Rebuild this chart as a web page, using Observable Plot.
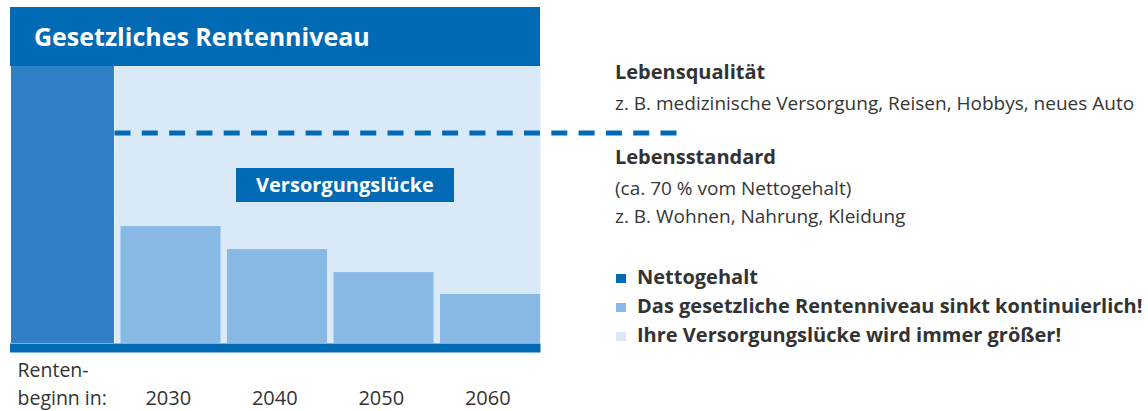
<!DOCTYPE html>
<html>
<head>
<meta charset="utf-8">
<script src="https://cdn.jsdelivr.net/npm/d3@7"></script>
<script src="https://cdn.jsdelivr.net/npm/@observablehq/plot@0.6"></script>
<style>
  html, body { margin: 0; padding: 0; background: #ffffff; }
  body { font-family: "Open Sans", sans-serif; color: #333333; }
  #wrap { position: relative; width: 1148px; height: 411px; overflow: hidden; }
  #chart { position: absolute; left: 0; top: 0; }
  #title { position: absolute; left: 10px; top: 7px; width: 530px; height: 59px; background: #006ab4;
           color: #ffffff; font-weight: 700; font-size: 25px; line-height: 59px; padding-left: 24px; box-sizing: border-box; }
  #gap { position: absolute; left: 236px; top: 168px; width: 218px; height: 34px; background: #006ab4;
         color: #ffffff; font-weight: 700; font-size: 20px; line-height: 34px; text-align: center; }
  .note { position: absolute; left: 615px; font-size: 19px; line-height: 22px; white-space: nowrap; color: #363636; }
  .note.b { font-weight: 700; font-size: 20px; color: #333333; }
  .leg { position: absolute; left: 616px; font-size: 20px; line-height: 22px; font-weight: 700; white-space: nowrap; color: #333333; }
  .leg .sw { position: absolute; left: 0; top: 8px; width: 10px; height: 9px; }
  .leg .lt { position: absolute; left: 21px; top: 0; }
</style>
</head>
<body>
<div id="wrap">
  <div id="chart"></div>
  <div id="title"></div>
  <div id="gap"></div>
  <div id="notes"></div>
  <div id="legend"></div>
</div>
<script>
// ---- data ----
const titleText = "Gesetzliches Rentenniveau";
const gapLabel = "Versorgungslücke";
const firstColumnLabel = "Renten-\nbeginn in:";
const years = ["2030", "2040", "2050", "2060"];
const rentenniveau = [42.2, 33.9, 25.6, 17.7];   // % of Nettogehalt
const nettogehalt = 100;
const lebensstandard = 76;                        // dashed threshold level
const notesTop = ["Lebensqualität", "z. B. medizinische Versorgung, Reisen, Hobbys, neues Auto"];
const notesBottom = ["Lebensstandard", "(ca. 70 % vom Nettogehalt)", "z. B. Wohnen, Nahrung, Kleidung"];
const legendLabels = ["Nettogehalt", "Das gesetzliche Rentenniveau sinkt kontinuierlich!", "Ihre Versorgungslücke wird immer größer!"];
const legendColors = ["#006ab4", "#88b8e4", "#dae9f7"];

// ---- chart ----
const rows = years.map((year, i) => ({year, slot: i + 1, value: rentenniveau[i]}));
const dark = "#006ab4";

const plot = Plot.plot({
  width: 1148,
  height: 411,
  marginTop: 66,
  marginBottom: 68,
  marginLeft: 8,
  marginRight: 607.5,
  x: {domain: [0, 5], axis: null},
  y: {domain: [0, 100], axis: null},
  style: {fontFamily: "Open Sans, sans-serif", fontSize: "19.5px", color: "#333333", background: "transparent"},
  marks: [
    Plot.rect([nettogehalt], {x1: 1, x2: 5, y1: 0, y2: d => d, fill: legendColors[2]}),
    Plot.rect([nettogehalt], {x1: 0, x2: 1, y1: 0, y2: d => d, fill: "#2f7fc4", insetLeft: 3, insetRight: 0.5}),
    Plot.rect(rows, {x1: "slot", x2: d => d.slot + 1, y1: 0, y2: "value", fill: legendColors[1], insetLeft: 6, insetRight: 0.5}),
    Plot.ruleY([lebensstandard], {x1: 1, x2: 5, stroke: dark, strokeWidth: 5, strokeDasharray: "16,11.3", insetLeft: 0, insetRight: -138}),
    Plot.ruleY([0], {x1: 0, x2: 5, stroke: dark, strokeWidth: 9, dy: 4.5, insetLeft: 2}),
    Plot.text(rows, {x: d => d.slot + 0.5, y: 0, text: "year", dy: 55, fontSize: 20, fill: "#333333"}),
    Plot.text([firstColumnLabel], {x: 0, y: 0, text: d => d, textAnchor: "start", dx: 9, dy: 38.5, lineHeight: 1.44, fill: "#333333"})
  ]
});
document.getElementById("chart").appendChild(plot);

// ---- html labels ----
document.getElementById("title").textContent = titleText;
document.getElementById("gap").textContent = gapLabel;

const notes = document.getElementById("notes");
const noteTops = [61, 92, 146, 177, 205];
[...notesTop, ...notesBottom].forEach((t, i) => {
  const d = document.createElement("div");
  d.className = "note" + (i === 0 || i === 2 ? " b" : "");
  d.style.top = noteTops[i] + "px";
  d.textContent = t;
  notes.appendChild(d);
});

const legend = document.getElementById("legend");
legendLabels.forEach((t, i) => {
  const d = document.createElement("div");
  d.className = "leg";
  d.style.top = (266 + i * 29) + "px";
  const sw = document.createElement("span");
  sw.className = "sw";
  sw.style.background = legendColors[i];
  const lt = document.createElement("span");
  lt.className = "lt";
  lt.textContent = t;
  d.appendChild(sw);
  d.appendChild(lt);
  legend.appendChild(d);
});
</script>
</body>
</html>
